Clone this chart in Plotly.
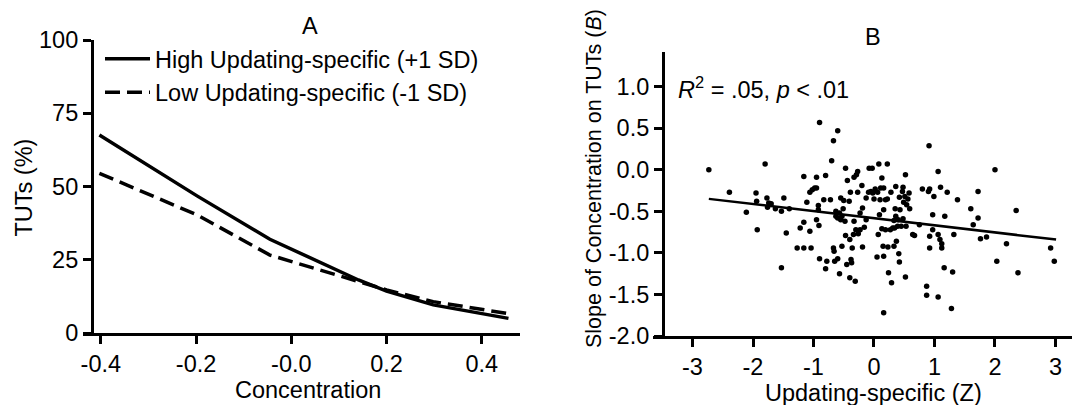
import plotly.graph_objects as go

# ---------------- Panel A data ----------------
conc_x = [-0.403, -0.198, -0.045, 0.141, 0.2, 0.298, 0.456]
high_tuts = [67.6, 46.8, 32.0, 18.1, 14.3, 9.6, 5.0]
low_tuts = [54.5, 40.3, 26.6, 17.5, 14.7, 10.7, 6.6]

a_xtick_vals = [-0.4, -0.2, 0.0, 0.2, 0.4]
a_xtick_text = ["-0.4", "-0.2", "-0.0", "0.2", "0.4"]
a_ytick_vals = [0, 25, 50, 75, 100]

# ---------------- Panel B data ----------------
upd_z = [-2.73, -2.39, -2.11, -1.95, -1.94, -1.93, -1.80, -1.77, -1.74, -1.76,
         -1.70, -1.63, -1.53, -1.53, -1.49, -1.45, -1.40, -1.27, -1.22, -1.16,
         -1.16, -1.16, -1.11, -1.06, -1.04, -1.06, -1.02, -0.98, -0.95, -0.95,
         -0.95, -0.92, -0.92, -0.91, -0.90, -0.90, -0.83, -0.80, -0.80, -0.78,
         -0.72, -0.70, -0.67, -0.67, -0.66, -0.65, -0.63, -0.63, -0.60, -0.60,
         -0.60, -0.57, -0.57, -0.55, -0.55, -0.53, -0.53, -0.51, -0.50, -0.48,
         -0.47, -0.47, -0.45, -0.44, -0.41, -0.40, -0.39, -0.40, -0.38, -0.37,
         -0.36, -0.34, -0.33, -0.33, -0.31, -0.30, -0.29, -0.27, -0.27, -0.26,
         -0.23, -0.23, -0.20, -0.19, -0.19, -0.16, -0.13, -0.13, -0.09, -0.08,
         -0.05, -0.03, -0.02, 0.00, 0.02, 0.06, 0.05, 0.07, 0.08, 0.09,
         0.10, 0.11, 0.13, 0.13, 0.15, 0.16, 0.16, 0.16, 0.16, 0.19,
         0.19, 0.22, 0.22, 0.23, 0.24, 0.27, 0.28, 0.29, 0.31, 0.33,
         0.33, 0.34, 0.35, 0.36, 0.36, 0.37, 0.39, 0.40, 0.41, 0.42,
         0.42, 0.43, 0.45, 0.47, 0.48, 0.48, 0.49, 0.51, 0.52, 0.52,
         0.53, 0.54, 0.56, 0.58, 0.59, 0.64, 0.67, 0.75, 0.80, 0.87,
         0.87, 0.90, 0.91, 0.92, 0.92, 0.92, 0.97, 0.97, 0.99, 1.06,
         1.06, 1.06, 1.09, 1.10, 1.12, 1.12, 1.16, 1.17, 1.21, 1.28,
         1.30, 1.32, 1.38, 1.60, 1.64, 1.72, 1.72, 1.76, 1.86, 2.00,
         2.03, 2.19, 2.35, 2.38, 2.92, 2.98]
slope_b = [0.00, -0.27, -0.51, -0.28, -0.38, -0.72, 0.07, -0.34, -0.40, -0.45,
           -0.41, -0.47, -0.50, -1.18, -0.34, -0.76, -0.47, -0.94, -0.70, -0.63,
           -0.08, -0.94, -0.39, -0.74, -0.94, -0.27, -0.24, -0.22, -0.22, -0.09,
           -0.60, -0.43, -0.48, -0.67, -1.07, 0.57, -0.36, -0.07, -1.19, -1.10,
           -0.36, 0.11, 0.35, -0.94, -0.98, -1.10, -0.50, -0.56, 0.47, -0.58,
           -1.07, -0.52, -1.25, -0.34, -0.60, -0.92, -0.56, -0.47, -0.37, -0.62,
           0.02, -0.79, -1.14, -0.13, -0.38, -0.84, -0.27, -1.30, -1.08, -1.12,
           -0.94, -0.78, -0.09, -0.62, -1.34, -0.72, -0.06, -0.02, -0.27, -0.77,
           -0.52, -0.72, -0.19, -0.46, -0.93, -0.69, -0.60, -0.34, -0.27, 0.02,
           -0.26, 0.02, -0.28, -0.35, -0.23, -0.27, -1.05, -0.78, 0.07, -0.54,
           -0.36, -0.22, -0.71, -0.10, -0.92, -1.04, -1.72, -0.22, -0.48, -0.72,
           -0.36, -0.35, 0.07, -0.93, -1.24, -0.72, -0.27, -1.36, -0.70, -0.92,
           -0.61, -0.70, -0.47, -0.56, -0.20, -0.86, -0.68, -0.60, -1.01, -0.33,
           -1.11, -0.48, -0.68, -0.26, -0.21, -0.59, -0.39, -0.32, -0.06, -1.29,
           -0.68, -0.42, -0.35, -0.28, -0.47, -0.78, -0.79, -0.66, -0.23, -1.40,
           -1.51, -0.26, 0.29, -0.23, -0.94, -0.80, -0.54, -0.72, -0.32, -0.02,
           -0.78, -1.53, -0.84, -0.21, -0.89, -0.94, -1.18, -0.56, -0.27, -1.67,
           -1.23, -0.78, -0.36, -0.47, -0.66, -0.26, -0.58, -0.83, -0.81, 0.00,
           -1.10, -0.89, -0.49, -1.24, -0.94, -1.10]
reg_x = [-2.73, 3.01]
reg_y = [-0.35, -0.84]

b_xtick_vals = [-3, -2, -1, 0, 1, 2, 3]
b_xtick_text = ["-3", "-2", "-1", "0", "1", "2", "3"]
b_ytick_vals = [1.0, 0.5, 0.0, -0.5, -1.0, -1.5, -2.0]
b_ytick_text = ["1.0", "0.5", "0.0", "-0.5", "-1.0", "-1.5", "-2.0"]

W, H = 1072, 405
FONT = "Arial, Liberation Sans, sans-serif"
FS = 23.5


def px(x):
    return x / W


def py(y):
    return 1 - y / H


fig = go.Figure()

fig.add_trace(go.Scatter(x=conc_x, y=high_tuts, mode="lines", name="High Updating-specific (+1 SD)",
                         line=dict(color="black", width=3.5), xaxis="x", yaxis="y",
                         legendgroup="h"))
fig.add_trace(go.Scatter(x=conc_x, y=low_tuts, mode="lines", name="Low Updating-specific (-1 SD)",
                         line=dict(color="black", width=3.5, dash="15px,7px"), xaxis="x", yaxis="y",
                         legendgroup="l"))

fig.add_trace(go.Scatter(x=upd_z, y=slope_b, mode="markers", showlegend=False,
                         marker=dict(color="black", size=5.5), xaxis="x2", yaxis="y2"))
fig.add_trace(go.Scatter(x=reg_x, y=reg_y, mode="lines", showlegend=False,
                         line=dict(color="black", width=2.5), xaxis="x2", yaxis="y2"))

axis_common = dict(showline=True, linecolor="black", linewidth=2.5, ticks="outside",
                   ticklen=8, tickwidth=2.5, tickcolor="black", showgrid=False, zeroline=False,
                   automargin=False,
                   tickfont=dict(family=FONT, size=FS, color="black"), tickmode="array")

fig.update_layout(
    width=W, height=H,
    margin=dict(l=0, r=0, t=0, b=0, autoexpand=False),
    paper_bgcolor="white", plot_bgcolor="white",
    font=dict(family=FONT, size=FS, color="black"),
    xaxis=dict(domain=[px(83), px(520)], range=[-0.4374, 0.4802], anchor="y",
               tickvals=a_xtick_vals, ticktext=a_xtick_text, **axis_common),
    yaxis=dict(domain=[py(333), py(40)], range=[0, 100], anchor="free", position=px(91.7),
               tickvals=a_ytick_vals, ticktext=[str(v) for v in a_ytick_vals], **axis_common),
    xaxis2=dict(domain=[px(653), 1.0], range=[-3.653, 3.273], anchor="y2",
                tickvals=b_xtick_vals, ticktext=b_xtick_text, **axis_common),
    yaxis2=dict(domain=[py(336), py(51.7)], range=[-2.0, 1.421], anchor="free", position=px(662.7),
                tickvals=b_ytick_vals, ticktext=b_ytick_text, **axis_common),
    showlegend=True,
    legend=dict(x=px(100), y=py(37), xanchor="left", yanchor="top", bgcolor="rgba(0,0,0,0)",
                font=dict(family=FONT, size=FS, color="black"), itemwidth=45,
                tracegroupgap=1.5, traceorder="normal"),
)

annots = [
    dict(text="A", x=px(310), y=py(26), size=FS),
    dict(text="B", x=px(873), y=py(37), size=FS),
    dict(text="Concentration", x=px(308), y=py(390), size=FS),
    dict(text="Updating-specific (Z)", x=px(873), y=py(393), size=FS),
    dict(text="TUTs (%)", x=px(23.5), y=py(188), textangle=-90, size=FS),
    dict(text="Slope of Concentration on TUTs (<i>B</i>)", x=px(594), y=py(179), textangle=-90,
         size=21.5),
]
for a in annots:
    s = a.pop("size")
    fig.add_annotation(xref="paper", yref="paper", showarrow=False,
                       xanchor="center", yanchor="middle",
                       font=dict(family=FONT, size=s, color="black"), **a)

fig.add_annotation(xref="paper", yref="paper", showarrow=False, xanchor="left", yanchor="middle",
                   x=px(676), y=py(88), text="<i>R</i><sup>2</sup> = .05, <i>p</i> &lt; .01",
                   font=dict(family=FONT, size=FS, color="black"))

fig.write_html("out.html", config={"displayModeBar": False},
               post_script="document.body.style.margin='0';document.body.style.overflow='hidden';")
